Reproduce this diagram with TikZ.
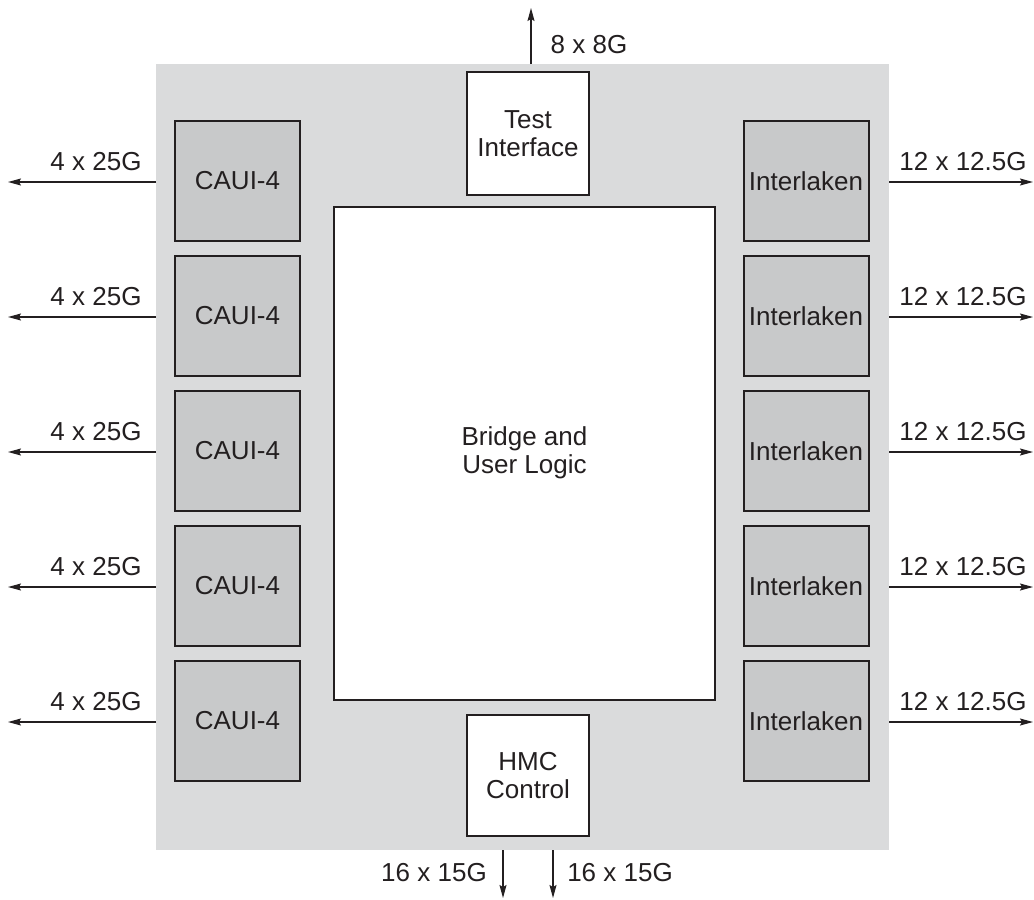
\documentclass[tikz,border=0pt]{standalone}
\usepackage{fontspec}
\setmainfont{Liberation Sans}
\usetikzlibrary{arrows.meta}
\definecolor{bggray}{HTML}{DADBDC}
\definecolor{boxgray}{HTML}{C8C9CA}
\definecolor{ink}{HTML}{231F20}
\begin{document}
\begin{tikzpicture}[x=1pt,y=-1pt,
 blk/.style={draw=ink,line width=2pt,minimum width=125pt,minimum height=120pt,inner sep=0pt,align=center,font=\fontsize{26}{28}\selectfont,text=ink},
 gblk/.style={blk,fill=boxgray},
 wblk/.style={blk,fill=white},
 lbl/.style={font=\fontsize{26}{28}\selectfont,text=ink,inner sep=0pt},
 arr/.style={draw=ink,line width=1.3pt,-{Stealth[length=13pt,width=7pt,inset=2pt]}}]
\useasboundingbox (0,0) rectangle (1034,900);
\node[fill=bggray,minimum width=733pt,minimum height=786pt,inner sep=0pt,anchor=north west] (bg) at (156,64) {};
% left and right columns
\foreach \i in {0,...,4}{
  \node[gblk] (c\i) at (237.5,{181+135*\i}) {CAUI-4};
  \node[gblk] (il\i) at (806,{181+135*\i}) {Interlaken};
  \coordinate (lend\i) at (8,{182+135*\i});
  \coordinate (rend\i) at (1033,{182+135*\i});
  \draw[arr] (bg.west |- lend\i) -- (lend\i);
  \draw[arr] (bg.east |- rend\i) -- (rend\i);
  \node[lbl] (ll\i) at (96,{162+135*\i}) {4 x 25G};
  \node[lbl] (rl\i) at (963,{162+135*\i}) {12 x 12.5G};
}
\node[wblk,minimum width=122pt,minimum height=123pt] (test) at (528,133.5) {Test\\Interface};
\node[wblk,minimum width=122pt,minimum height=121pt] (hmc) at (528,775.5) {HMC\\Control};
\node[wblk,minimum width=381pt,minimum height=493pt] (bridge) at (524.5,453) {Bridge and\\User Logic};
% top arrow
\coordinate (tstart) at (531,64);
\coordinate (tend) at (531,8);
\draw[arr] (tstart) -- (tend);
\node[lbl] (tl) at (589,45) {8 x 8G};
% bottom arrows
\coordinate (b1s) at (503,850);
\coordinate (b1e) at (503,898);
\coordinate (b2s) at (553,850);
\coordinate (b2e) at (553,898);
\draw[arr] (b1s) -- (b1e);
\draw[arr] (b2s) -- (b2e);
\node[lbl] (bl1) at (434,873) {16 x 15G};
\node[lbl] (bl2) at (620,873) {16 x 15G};
\end{tikzpicture}
\end{document}
